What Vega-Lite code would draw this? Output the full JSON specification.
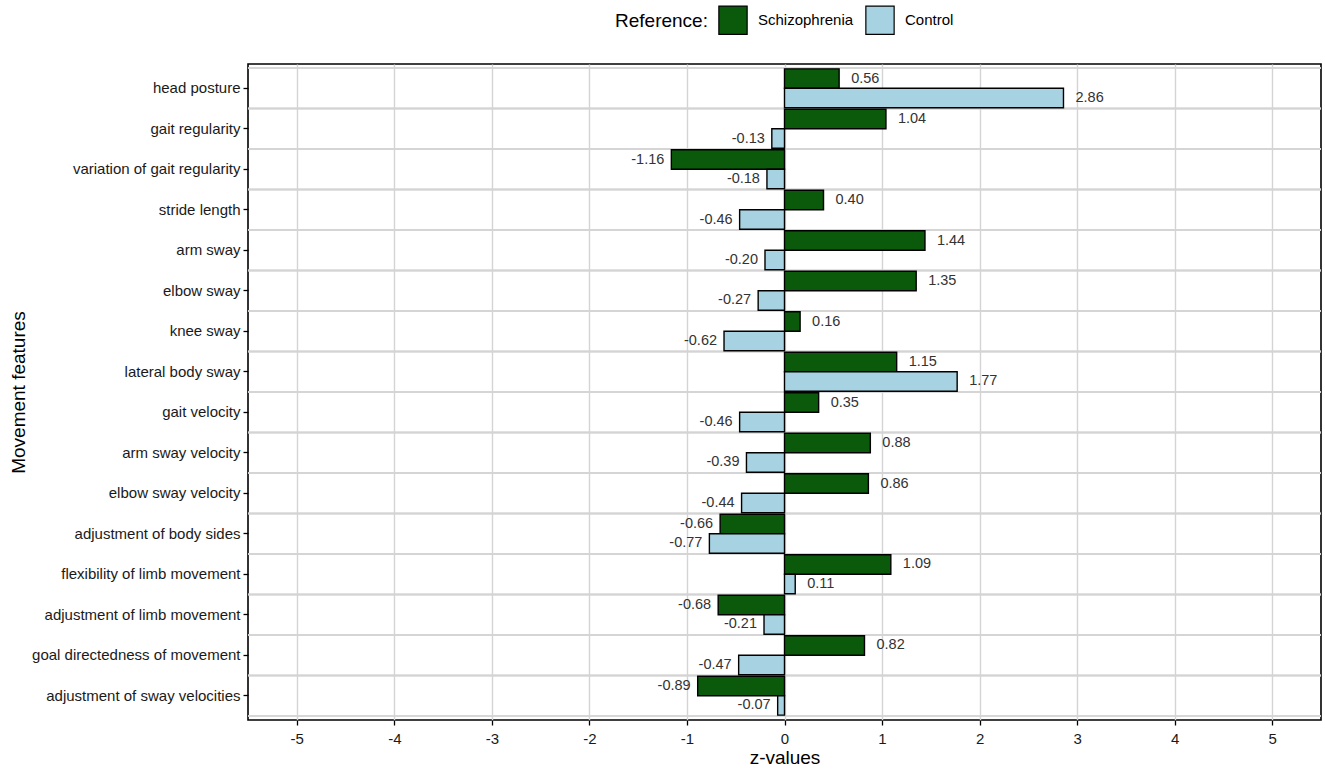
{
  "$schema": "https://vega.github.io/schema/vega-lite/v6.json",
  "width": 1073,
  "height": 656,
  "autosize": {"type": "none"},
  "padding": {"left": 248, "top": 64, "right": 4, "bottom": 52},
  "background": "white",
  "config": {
    "font": "Liberation Sans",
    "locale": {
      "number": {"decimal": ".", "thousands": ",", "grouping": [3], "currency": ["$", ""], "minus": "-"}
    },
    "view": {"stroke": "black", "strokeWidth": 1.6},
    "axis": {
      "domain": false,
      "tickColor": "black",
      "tickWidth": 1.3,
      "tickSize": 5,
      "labelColor": "#1a1a1a",
      "labelFontSize": 15,
      "titleFontSize": 19,
      "titleFontWeight": "normal",
      "titleColor": "black"
    }
  },
  "data": {
    "values": [
      {"feature": "head posture", "reference": "Schizophrenia", "z": 0.56},
      {"feature": "head posture", "reference": "Control", "z": 2.86},
      {"feature": "gait regularity", "reference": "Schizophrenia", "z": 1.04},
      {"feature": "gait regularity", "reference": "Control", "z": -0.13},
      {"feature": "variation of gait regularity", "reference": "Schizophrenia", "z": -1.16},
      {"feature": "variation of gait regularity", "reference": "Control", "z": -0.18},
      {"feature": "stride length", "reference": "Schizophrenia", "z": 0.40},
      {"feature": "stride length", "reference": "Control", "z": -0.46},
      {"feature": "arm sway", "reference": "Schizophrenia", "z": 1.44},
      {"feature": "arm sway", "reference": "Control", "z": -0.20},
      {"feature": "elbow sway", "reference": "Schizophrenia", "z": 1.35},
      {"feature": "elbow sway", "reference": "Control", "z": -0.27},
      {"feature": "knee sway", "reference": "Schizophrenia", "z": 0.16},
      {"feature": "knee sway", "reference": "Control", "z": -0.62},
      {"feature": "lateral body sway", "reference": "Schizophrenia", "z": 1.15},
      {"feature": "lateral body sway", "reference": "Control", "z": 1.77},
      {"feature": "gait velocity", "reference": "Schizophrenia", "z": 0.35},
      {"feature": "gait velocity", "reference": "Control", "z": -0.46},
      {"feature": "arm sway velocity", "reference": "Schizophrenia", "z": 0.88},
      {"feature": "arm sway velocity", "reference": "Control", "z": -0.39},
      {"feature": "elbow sway velocity", "reference": "Schizophrenia", "z": 0.86},
      {"feature": "elbow sway velocity", "reference": "Control", "z": -0.44},
      {"feature": "adjustment of body sides", "reference": "Schizophrenia", "z": -0.66},
      {"feature": "adjustment of body sides", "reference": "Control", "z": -0.77},
      {"feature": "flexibility of limb movement", "reference": "Schizophrenia", "z": 1.09},
      {"feature": "flexibility of limb movement", "reference": "Control", "z": 0.11},
      {"feature": "adjustment of limb movement", "reference": "Schizophrenia", "z": -0.68},
      {"feature": "adjustment of limb movement", "reference": "Control", "z": -0.21},
      {"feature": "goal directedness of movement", "reference": "Schizophrenia", "z": 0.82},
      {"feature": "goal directedness of movement", "reference": "Control", "z": -0.47},
      {"feature": "adjustment of sway velocities", "reference": "Schizophrenia", "z": -0.89},
      {"feature": "adjustment of sway velocities", "reference": "Control", "z": -0.07}
    ]
  },
  "encoding": {
    "y": {
      "field": "feature",
      "type": "nominal",
      "sort": null,
      "scale": {"paddingInner": 0, "paddingOuter": 0.1},
      "axis": {
        "title": "Movement features",
        "labelPadding": 3,
        "labelLimit": 400,
        "titlePadding": 20,
        "grid": false
      }
    }
  },
  "layer": [
    {
      "mark": {"type": "rule", "color": "#d4d4d4", "strokeWidth": 1.4},
      "encoding": {
        "y": {"field": "feature", "type": "nominal", "sort": null, "bandPosition": 0}
      }
    },
    {
      "mark": {"type": "rule", "color": "#d4d4d4", "strokeWidth": 1.4},
      "encoding": {
        "y": {"field": "feature", "type": "nominal", "sort": null, "bandPosition": 1}
      }
    },
    {
      "mark": {"type": "bar", "stroke": "black", "strokeWidth": 1.4},
      "encoding": {
        "x": {
          "field": "z",
          "type": "quantitative",
          "scale": {"domain": [-5.5, 5.5], "nice": false, "zero": false},
          "axis": {
            "title": "z-values",
            "values": [-5, -4, -3, -2, -1, 0, 1, 2, 3, 4, 5],
            "format": "d",
            "grid": true,
            "gridColor": "#d4d4d4",
            "gridWidth": 1.4,
            "labelPadding": 6,
            "titlePadding": 2
          }
        },
        "x2": {"datum": 0},
        "yOffset": {
          "field": "reference",
          "type": "nominal",
          "sort": ["Schizophrenia", "Control"],
          "scale": {"paddingInner": 0, "paddingOuter": 0.04}
        },
        "color": {
          "field": "reference",
          "type": "nominal",
          "sort": ["Schizophrenia", "Control"],
          "scale": {"domain": ["Schizophrenia", "Control"], "range": ["#0b5a0b", "#a6d2e2"]},
          "legend": {
            "title": "Reference:",
            "orient": "none",
            "legendX": 367,
            "legendY": -59,
            "direction": "horizontal",
            "titleOrient": "left",
            "titleFontSize": 19,
            "titleFontWeight": "normal",
            "titleColor": "black",
            "titlePadding": 10,
            "labelFontSize": 15,
            "labelColor": "black",
            "labelOffset": 10,
            "columnPadding": 9,
            "symbolType": "square",
            "symbolSize": 800,
            "symbolStrokeColor": "black",
            "symbolStrokeWidth": 1.2,
            "symbolOpacity": 1
          }
        }
      }
    },
    {
      "transform": [{"filter": "datum.z >= 0"}],
      "mark": {"type": "text", "align": "left", "dx": 12, "fontSize": 14.5, "color": "#333333"},
      "encoding": {
        "x": {"field": "z", "type": "quantitative"},
        "yOffset": {"field": "reference", "type": "nominal", "sort": ["Schizophrenia", "Control"]},
        "text": {"field": "z", "type": "quantitative", "format": ".2f"}
      }
    },
    {
      "transform": [{"filter": "datum.z < 0"}],
      "mark": {"type": "text", "align": "right", "dx": -7, "fontSize": 14.5, "color": "#333333"},
      "encoding": {
        "x": {"field": "z", "type": "quantitative"},
        "yOffset": {"field": "reference", "type": "nominal", "sort": ["Schizophrenia", "Control"]},
        "text": {"field": "z", "type": "quantitative", "format": ".2f"}
      }
    }
  ]
}
